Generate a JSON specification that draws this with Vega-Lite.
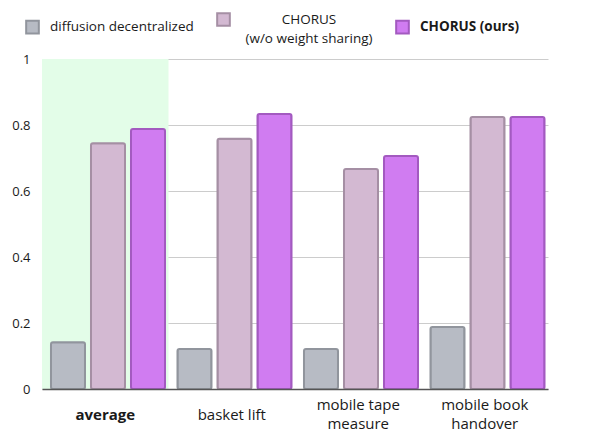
{
  "$schema": "https://vega.github.io/schema/vega-lite/v6.json",
  "width": 506,
  "height": 330,
  "autosize": {"type": "none"},
  "padding": {"left": 42, "top": 59, "right": 42, "bottom": 43},
  "background": "white",
  "config": {
    "font": "Open Sans",
    "view": {"stroke": null}
  },
  "datasets": {
    "bars": [
      {"task": "average", "method": "diffusion decentralized", "value": 0.142},
      {"task": "average", "method": "CHORUS (w/o weight sharing)", "value": 0.745},
      {"task": "average", "method": "CHORUS (ours)", "value": 0.788},
      {"task": "basket lift", "method": "diffusion decentralized", "value": 0.121},
      {"task": "basket lift", "method": "CHORUS (w/o weight sharing)", "value": 0.758},
      {"task": "basket lift", "method": "CHORUS (ours)", "value": 0.833},
      {"task": "mobile tape measure", "method": "diffusion decentralized", "value": 0.121},
      {"task": "mobile tape measure", "method": "CHORUS (w/o weight sharing)", "value": 0.667},
      {"task": "mobile tape measure", "method": "CHORUS (ours)", "value": 0.706},
      {"task": "mobile book handover", "method": "diffusion decentralized", "value": 0.188},
      {"task": "mobile book handover", "method": "CHORUS (w/o weight sharing)", "value": 0.824},
      {"task": "mobile book handover", "method": "CHORUS (ours)", "value": 0.824}
    ],
    "highlight": [{"task": "average"}]
  },
  "layer": [
    {
      "data": {"name": "highlight"},
      "mark": {"type": "rect", "color": "#e3fde8", "x2Offset": 4},
      "encoding": {
        "x": {"field": "task", "type": "nominal", "sort": ["average", "basket lift", "mobile tape measure", "mobile book handover"]}
      }
    },
    {
      "data": {"name": "bars"},
      "mark": {"type": "bar", "strokeWidth": 2, "cornerRadius": 2},
      "encoding": {
        "x": {
          "field": "task", "type": "nominal",
          "sort": ["average", "basket lift", "mobile tape measure", "mobile book handover"],
          "scale": {"paddingInner": 0, "paddingOuter": 0},
          "axis": {
            "title": null,
            "labelAngle": 0,
            "labelAlign": "center",
            "bandPosition": 0.5,
            "ticks": false,
            "domain": true,
            "domainColor": "#555555",
            "domainWidth": 1.5,
            "labelFontSize": 15,
            "labelColor": "#1a1a1a",
            "labelBaseline": "top",
            "labelPadding": {"condition": {"test": "indexof(datum.value, 'mobile') == 0", "value": 8}, "value": 18},
            "labelLimit": 200,
            "labelExpr": "datum.value == 'mobile tape measure' ? ['mobile tape', 'measure'] : datum.value == 'mobile book handover' ? ['mobile book', 'handover'] : datum.value",
            "labelFontWeight": {"condition": {"test": "datum.value == 'average'", "value": "bold"}, "value": "normal"},
            "labelLineHeight": 19
          }
        },
        "xOffset": {
          "field": "method", "type": "nominal",
          "sort": ["diffusion decentralized", "CHORUS (w/o weight sharing)", "CHORUS (ours)"],
          "scale": {"paddingInner": 0.15, "paddingOuter": 0.156, "align": 0.72}
        },
        "y": {
          "field": "value", "type": "quantitative",
          "scale": {"domain": [0, 1]},
          "axis": {
            "title": null,
            "values": [0, 0.2, 0.4, 0.6, 0.8, 1],
            "format": "~g",
            "domain": false,
            "ticks": false,
            "labelPadding": 12,
            "labelFontSize": 13,
            "labelColor": "#1a1a1a",
            "gridColor": "#cccccc",
            "gridWidth": 1
          }
        },
        "fill": {
          "field": "method", "type": "nominal",
          "sort": ["diffusion decentralized", "CHORUS (w/o weight sharing)", "CHORUS (ours)"],
          "scale": {"domain": ["diffusion decentralized", "CHORUS (w/o weight sharing)", "CHORUS (ours)"], "range": ["#b7bbc4", "#d3b9d2", "#d07cf1"]},
          "legend": {
            "title": null,
            "orient": "none",
            "legendX": -17,
            "legendY": -47,
            "direction": "horizontal",
            "symbolType": "square",
            "symbolSize": 160,
            "symbolStrokeWidth": 2,
            "labelFontSize": 13.5,
            "labelColor": "#1a1a1a",
            "labelOffset": 10,
            "columnPadding": 19,
            "labelLimit": 250,
            "labelExpr": "datum.value == 'CHORUS (w/o weight sharing)' ? ['CHORUS', '(w/o weight sharing)'] : datum.value",
            "encode": {
              "labels": {
                "update": {
                  "fontWeight": {"signal": "datum.value == 'CHORUS (ours)' ? 'bold' : 'normal'"},
                  "align": {"signal": "datum.value == 'CHORUS (w/o weight sharing)' ? 'center' : 'left'"},
                  "dx": {"signal": "datum.value == 'CHORUS (w/o weight sharing)' ? 68 : 0"},
                  "lineHeight": {"value": 19}
                }
              }
            }
          }
        },
        "stroke": {
          "field": "method", "type": "nominal",
          "sort": ["diffusion decentralized", "CHORUS (w/o weight sharing)", "CHORUS (ours)"],
          "scale": {"domain": ["diffusion decentralized", "CHORUS (w/o weight sharing)", "CHORUS (ours)"], "range": ["#91959d", "#a58fa4", "#a35ac0"]},
          "legend": null
        }
      }
    }
  ]
}
